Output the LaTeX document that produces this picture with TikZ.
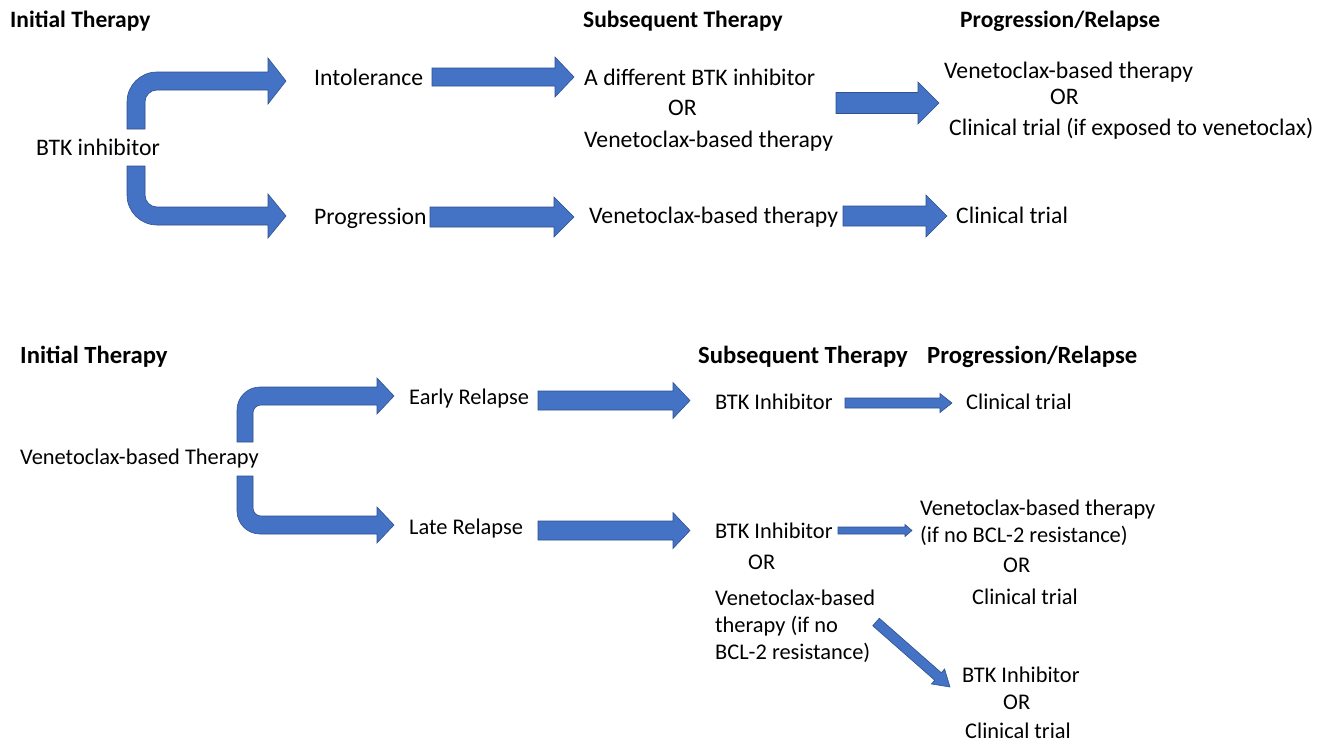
\documentclass[tikz,border=0pt]{standalone}
\usepackage{fontspec}
\setmainfont{Carlito}
\usetikzlibrary{calc}
\definecolor{arrfill}{HTML}{4472C4}
\definecolor{arrline}{HTML}{2F528F}
\tikzset{
  blockarrow/.style={fill=arrfill, draw=arrline, line width=0.6pt, line join=miter},
  txt/.style={anchor=west, inner sep=0pt, text height=16pt, text depth=2pt,
    font=\fontsize{23.7pt}{28pt}\selectfont},
  txtb/.style={txt, font=\fontsize{22.4pt}{27pt}\selectfont},
  head/.style={txt, font=\fontsize{23.5pt}{28pt}\selectfont\bfseries},
  headb/.style={txt, font=\fontsize{24.7pt}{29pt}\selectfont\bfseries},
}
% horizontal block arrow: start, end, half shaft, half head, head length
\newcommand\harrow[5]{%
  \draw[blockarrow] ($(#1)+(0,-#3)$) -- ($(#2)+(-#5,-#3)$) -- ($(#2)+(-#5,-#4)$)
    -- (#2) -- ($(#2)+(-#5,#4)$) -- ($(#2)+(-#5,#3)$) -- ($(#1)+(0,#3)$) -- cycle;}
\begin{document}
\begin{tikzpicture}[x=1pt,y=-1pt]
\useasboundingbox[fill=white] (0,0) rectangle (1325,742);

% ---------------- top diagram ----------------
\node[head] (h1) at (10,20) {Initial Therapy};
\node[head] (h2) at (583,20) {Subsequent Therapy};
\node[head] (h3) at (960,20) {Progression/Relapse};

\node[txt] (btk) at (36,148) {BTK inhibitor};
\node[txt] (intol) at (314,78) {Intolerance};
\node[txt] (prog) at (314,217) {Progression};
\node[txt] (s1a) at (584,78) {A different BTK inhibitor};
\node[txt] (s1b) at (668,108) {OR};
\node[txt] (s1c) at (584,140) {Venetoclax-based therapy};
\node[txt] (p1a) at (944,71) {Venetoclax-based therapy};
\node[txt] (p1b) at (1050,97) {OR};
\node[txt] (p1c) at (949,128) {Clinical trial (if exposed to venetoclax)};
\node[txt] (s2) at (589,216) {Venetoclax-based therapy};
\node[txt] (p2) at (956,216) {Clinical trial};

% bent arrows from BTK inhibitor
\draw[blockarrow] (127,129) -- (127,102) .. controls (127,85.4) and (140.4,72) .. (157,72)
  -- (268,72) -- (268,58) -- (286,81) -- (268,104) -- (268,90) -- (157,90)
  .. controls (150.4,90) and (145,95.4) .. (145,102) -- (145,129) -- cycle;
\draw[blockarrow] (127,166) -- (127,195) .. controls (127,211.6) and (140.4,225) .. (157,225)
  -- (268,225) -- (268,238) -- (286,216) -- (268,194) -- (268,207) -- (157,207)
  .. controls (150.4,207) and (145,201.6) .. (145,195) -- (145,166) -- cycle;

\coordinate (a1s) at (432,77);  \coordinate (a1e) at (574,77);
\coordinate (a2s) at (836,103); \coordinate (a2e) at (939,103);
\coordinate (a3s) at (430,217); \coordinate (a3e) at (574,217);
\coordinate (a4s) at (843,216); \coordinate (a4e) at (947,216);
\harrow{a1s}{a1e}{9}{20}{19}
\harrow{a2s}{a2e}{10.5}{21}{21}
\harrow{a3s}{a3e}{10}{20}{20}
\harrow{a4s}{a4e}{10}{21}{21}

% ---------------- bottom diagram ----------------
\node[headb] (h4) at (20,356) {Initial Therapy};
\node[headb] (h5) at (698,356) {Subsequent Therapy};
\node[headb] (h6) at (927,356) {Progression/Relapse};

\node[txtb] (ven) at (20,457) {Venetoclax-based Therapy};
\node[txtb] (early) at (409,397) {Early Relapse};
\node[txtb] (late) at (409,527) {Late Relapse};
\node[txtb] (b1) at (715,402) {BTK Inhibitor};
\node[txtb] (c1) at (966,402) {Clinical trial};
\node[txtb] (b2a) at (715,531) {BTK Inhibitor};
\node[txtb] (b2b) at (748,562) {OR};
\node[txtb] (b2c) at (715,598) {Venetoclax-based};
\node[txtb] (b2d) at (715,625) {therapy (if no};
\node[txtb] (b2e) at (715,652) {BCL-2 resistance)};
\node[txtb] (r1a) at (920,508) {Venetoclax-based therapy};
\node[txtb] (r1b) at (920,535) {(if no BCL-2 resistance)};
\node[txtb] (r1c) at (1003,565) {OR};
\node[txtb] (r1d) at (972,597) {Clinical trial};
\node[txtb] (r2a) at (962,675) {BTK Inhibitor};
\node[txtb] (r2b) at (1003,702) {OR};
\node[txtb] (r2c) at (965,731) {Clinical trial};

% bent arrows from Venetoclax-based Therapy
\draw[blockarrow] (237,442) -- (237,410) .. controls (237,397.3) and (247.3,387) .. (260,387)
  -- (377,387) -- (377,378) -- (394,396) -- (377,414) -- (377,405) -- (261,405)
  .. controls (256.6,405) and (253,408.6) .. (253,413) -- (253,442) -- cycle;
\draw[blockarrow] (237,476) -- (237,511) .. controls (237,523.7) and (247.3,534) .. (260,534)
  -- (377,534) -- (377,543) -- (394,525) -- (377,507) -- (377,516) -- (261,516)
  .. controls (256.6,516) and (253,512.4) .. (253,508) -- (253,476) -- cycle;

\coordinate (b1s) at (538,400.5); \coordinate (b1e) at (690,400.5);
\coordinate (b2s) at (538,530.5); \coordinate (b2e) at (690,530.5);
\coordinate (b3s) at (845,403);   \coordinate (b3e) at (952,403);
\coordinate (b4s) at (838,530.5); \coordinate (b4e) at (912,530.5);
\harrow{b1s}{b1e}{9.5}{18}{17}
\harrow{b2s}{b2e}{9.5}{18}{17}
\harrow{b3s}{b3e}{5}{9.5}{12}
\harrow{b4s}{b4e}{3.5}{6}{7}

% diagonal arrow
\coordinate (d1) at (876,622);
\begin{scope}[shift={(d1)}, rotate=-41.3]
  \draw[blockarrow] (0,-5) -- (82.5,-5) -- (82.5,-10) -- (98.5,0) -- (82.5,10) -- (82.5,5) -- (0,5) -- cycle;
\end{scope}
\end{tikzpicture}
\end{document}
